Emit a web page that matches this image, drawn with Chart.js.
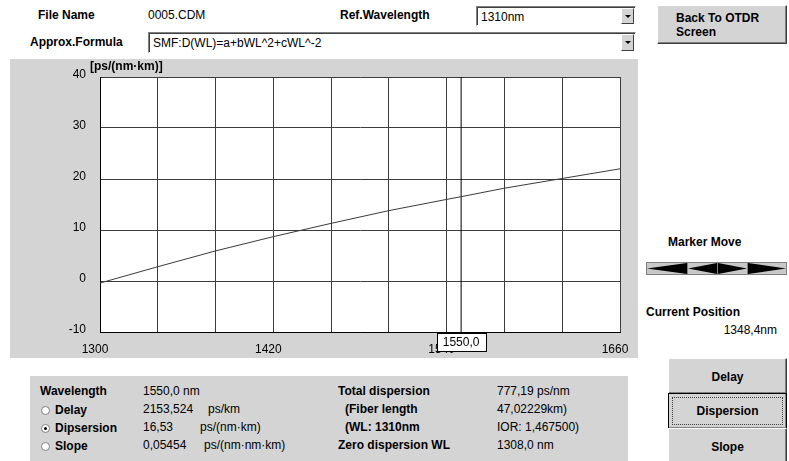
<!DOCTYPE html>
<html>
<head>
<meta charset="utf-8">
<script src="https://cdn.jsdelivr.net/npm/chart.js@4"></script>
<style>
  html,body{margin:0;padding:0;background:#fff;}
  body{width:789px;height:461px;overflow:hidden;position:relative;font-family:"Liberation Sans",Arial,sans-serif;font-size:12px;color:#000;}
  .abs{position:absolute;white-space:pre;line-height:14px;}
  .b{font-weight:bold;}
  .combo{position:absolute;background:#fff;border:1px solid;border-color:#808080 #fff #fff #808080;box-shadow:inset 1px 1px 0 #404040;box-sizing:border-box;}
  .combo span{position:absolute;left:4px;top:3px;font-size:12px;}
  .combo .arr{position:absolute;right:1px;top:1px;bottom:1px;width:13px;background:#d4d4d4;border:1px solid;border-color:#fff #404040 #404040 #fff;box-sizing:border-box;}
  .combo .arr:after{content:"";position:absolute;left:3px;top:6px;border-left:3px solid transparent;border-right:3px solid transparent;border-top:3px solid #000;}
  .btn{position:absolute;background:#d4d4d4;border:1px solid;border-color:#fff #404040 #404040 #fff;box-shadow:inset -1px -1px 0 #808080;box-sizing:border-box;}
  .panel{position:absolute;background:#d4d4d4;}
  .radio{position:absolute;width:7px;height:7px;border-radius:50%;background:#fff;border:1px solid #808080;}
  .radio.on:after{content:"";position:absolute;left:2px;top:2px;width:3px;height:3px;border-radius:50%;background:#000;}
</style>
</head>
<body>
<div class="abs b" style="left:38px;top:8px;">File Name</div>
<div class="abs" style="left:148px;top:8px;">0005.CDM</div>
<div class="abs b" style="left:340px;top:8px;">Ref.Wavelength</div>
<div class="combo" style="left:476px;top:6px;width:160px;height:20px;"><span>1310nm</span><div class="arr"></div></div>
<div class="abs b" style="left:30px;top:35px;">Approx.Formula</div>
<div class="combo" style="left:148px;top:32px;width:488px;height:21px;"><span>SMF:D(WL)=a+bWL^2+cWL^-2</span><div class="arr"></div></div>
<div class="btn" style="left:657px;top:5px;width:130px;height:39px;"><div class="abs b" style="left:18px;top:5px;">Back To OTDR</div><div class="abs b" style="left:18px;top:19px;">Screen</div></div>

<div class="panel" style="left:10px;top:59px;width:628px;height:299px;">
  <canvas id="c" width="628" height="299" style="width:628px;height:299px;"></canvas>
</div>

<div class="abs b" style="left:668px;top:235px;">Marker Move</div>
<svg style="position:absolute;left:646px;top:262px;" width="142" height="13">
  <rect x="0.5" y="0.5" width="140" height="12" fill="#c8c8c8" stroke="#808080"/>
  <line x1="41.5" y1="0" x2="41.5" y2="13" stroke="#808080"/>
  <line x1="71.5" y1="0" x2="71.5" y2="13" stroke="#808080"/>
  <line x1="101.5" y1="0" x2="101.5" y2="13" stroke="#808080"/>
  <polygon points="1,6.5 41,1 41,12" fill="#000"/>
  <polygon points="42,6.5 71,1 71,12" fill="#000"/>
  <polygon points="72,1 72,12 101,6.5" fill="#000"/>
  <polygon points="102,1 102,12 140,6.5" fill="#000"/>
</svg>
<div class="abs b" style="left:646px;top:305px;">Current Position</div>
<div class="abs" style="left:700px;top:323px;width:77px;text-align:right;">1348,4nm</div>

<div class="panel" style="left:30px;top:376px;width:598px;height:85px;"></div>
<div class="abs b" style="left:40px;top:384px;">Wavelength</div>
<div class="radio" style="left:41px;top:406px;"></div><div class="abs b" style="left:55px;top:403px;">Delay</div>
<div class="radio on" style="left:41px;top:424px;"></div><div class="abs b" style="left:55px;top:421px;">Dipsersion</div>
<div class="radio" style="left:41px;top:442px;"></div><div class="abs b" style="left:55px;top:439px;">Slope</div>
<div class="abs" style="left:143px;top:384px;">1550,0 nm</div>
<div class="abs" style="left:143px;top:402px;">2153,524</div><div class="abs" style="left:208px;top:402px;">ps/km</div>
<div class="abs" style="left:143px;top:420px;">16,53</div><div class="abs" style="left:200px;top:420px;">ps/(nm·km)</div>
<div class="abs" style="left:143px;top:438px;">0,05454</div><div class="abs" style="left:204px;top:438px;">ps/(nm·nm·km)</div>
<div class="abs b" style="left:338px;top:384px;">Total dispersion</div>
<div class="abs b" style="left:345px;top:402px;">(Fiber length</div>
<div class="abs b" style="left:345px;top:420px;">(WL: 1310nm</div>
<div class="abs b" style="left:338px;top:438px;">Zero dispersion WL</div>
<div class="abs" style="left:497px;top:384px;">777,19 ps/nm</div>
<div class="abs" style="left:497px;top:402px;">47,02229km)</div>
<div class="abs" style="left:497px;top:420px;">IOR: 1,467500)</div>
<div class="abs" style="left:497px;top:438px;">1308,0 nm</div>

<div class="btn" style="left:668px;top:358px;width:119px;height:36px;"><div class="abs b" style="left:0;width:117px;text-align:center;top:11px;">Delay</div></div>
<div class="btn" style="left:668px;top:393px;width:119px;height:36px;border:1px solid #000;"><div style="position:absolute;left:3px;top:3px;right:3px;bottom:3px;border:1px dotted #404040;"></div><div class="abs b" style="left:0;width:117px;text-align:center;top:10px;">Dispersion</div></div>
<div class="btn" style="left:668px;top:428px;width:119px;height:36px;"><div class="abs b" style="left:0;width:117px;text-align:center;top:11px;">Slope</div></div>

<script>
// ---- data ----
const wavelengths = [1300, 1340, 1380, 1420, 1460, 1500, 1540, 1550, 1580, 1620, 1660];
const dispersion  = [-0.4, 2.8, 5.9, 8.7, 11.3, 13.8, 16.0, 16.53, 18.2, 20.1, 22.0];
const xMin = 1300, xMax = 1660, xStep = 40, xLabelEvery = 120;
const yMin = -10, yMax = 40, yStep = 10;
const yUnit = "[ps/(nm·km)]";
const markerWavelength = 1550;
const markerLabel = "1550,0";

const FONT = {family: "'Liberation Sans', Arial, sans-serif", size: 12};

const bgPlugin = {
  id: 'bg',
  beforeDraw(chart) {
    const {ctx, chartArea: a} = chart;
    ctx.save(); ctx.fillStyle = '#fff';
    ctx.fillRect(a.left, a.top, a.right - a.left, a.bottom - a.top);
    ctx.restore();
  },
  afterDraw(chart) {
    const {ctx, chartArea: a, scales} = chart;
    ctx.save();
    ctx.font = "bold 12px 'Liberation Sans', Arial, sans-serif";
    ctx.fillStyle = '#000';
    ctx.textBaseline = 'middle';
    ctx.textAlign = 'left';
    ctx.fillText(yUnit, a.left - 10, a.top - 10);
    const mx = scales.x.getPixelForValue(markerWavelength);
    const w = 49, h = 18;
    const bx = Math.round(mx - w / 2) + 0.5, by = a.bottom + 1.5;
    ctx.fillStyle = '#fff'; ctx.strokeStyle = '#000'; ctx.lineWidth = 1;
    ctx.fillRect(bx, by, w, h); ctx.strokeRect(bx, by, w, h);
    ctx.font = "12px 'Liberation Sans', Arial, sans-serif";
    ctx.fillStyle = '#000'; ctx.textAlign = 'center';
    ctx.fillText(markerLabel, mx, by + h / 2);
    ctx.restore();
  }
};

new Chart(document.getElementById('c'), {
  type: 'scatter',
  data: {
    datasets: [
      {
        data: wavelengths.map((x, i) => ({x, y: dispersion[i]})),
        showLine: true, borderColor: '#3c3c3c', borderWidth: 1, pointRadius: 0, tension: 0
      },
      {
        data: [{x: markerWavelength, y: yMin}, {x: markerWavelength, y: yMax}],
        showLine: true, borderColor: '#000', borderWidth: 1, pointRadius: 0
      }
    ]
  },
  options: {
    responsive: false, animation: false, devicePixelRatio: 1,
    layout: {padding: {left: 0, top: 18, right: 18, bottom: 0}},
    plugins: {legend: {display: false}, tooltip: {enabled: false}},
    scales: {
      x: {
        type: 'linear', min: xMin, max: xMax,
        afterFit(s) { s.height = 26; s.paddingLeft = 0; s.paddingRight = 0; },
        border: {color: '#000', width: 1},
        grid: {color: '#3c3c3c', lineWidth: 1, drawTicks: false},
        ticks: {
          stepSize: xStep, autoSkip: false, maxRotation: 0, padding: 10, labelOffset: -5,
          color: '#000', font: FONT,
          callback: v => ((v - xMin) % xLabelEvery === 0 ? String(v) : '')
        }
      },
      y: {
        min: yMin, max: yMax,
        afterFit(s) { s.width = 90; s.paddingTop = 0; s.paddingBottom = 0; },
        border: {color: '#000', width: 1},
        grid: {color: '#3c3c3c', lineWidth: 1, drawTicks: false},
        ticks: {stepSize: yStep, padding: 14, labelOffset: -2, color: '#000', font: FONT}
      }
    }
  },
  plugins: [bgPlugin]
});
</script>
</body>
</html>
